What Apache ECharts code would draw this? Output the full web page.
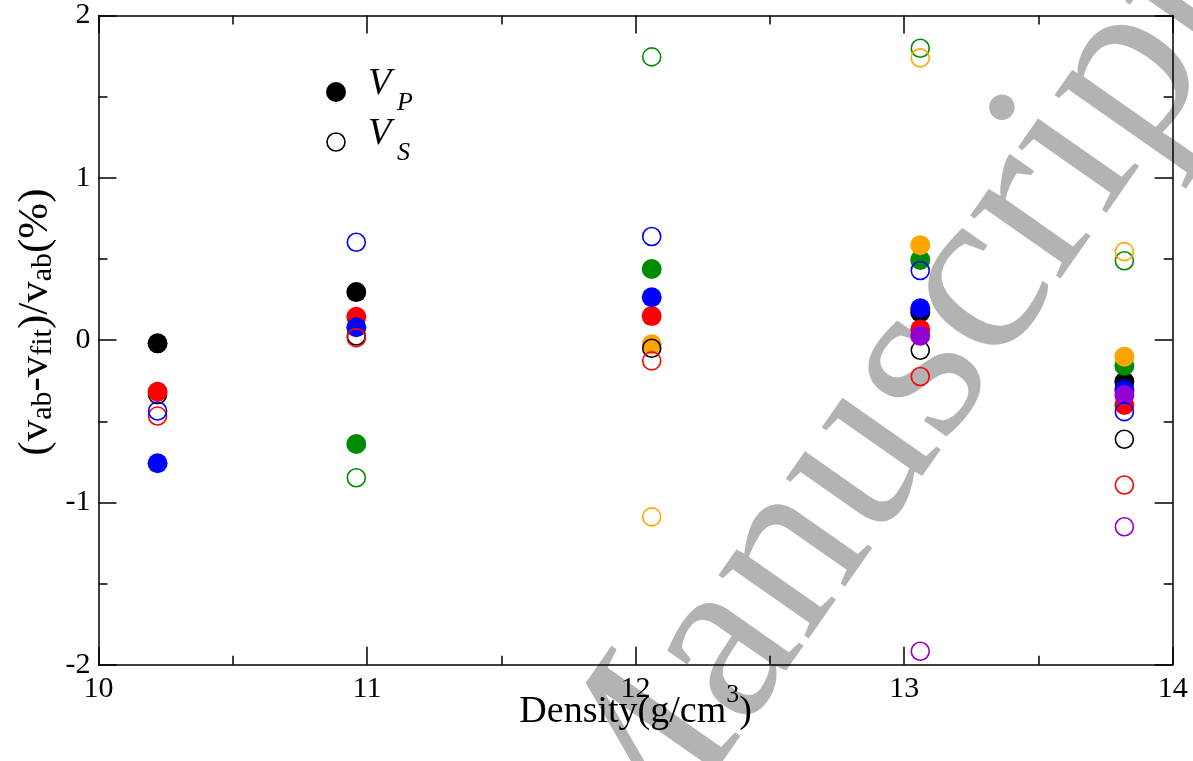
<!DOCTYPE html>
<html><head><meta charset="utf-8">
<script src="https://cdn.jsdelivr.net/npm/echarts@6/dist/echarts.min.js"></script>
<style>html,body{margin:0;padding:0;background:#fff}#c{width:1193px;height:761px}</style>
</head><body><div id="c"></div>
<script>
// Densities (g/cm^3) of the five groups
const densities = [10.22, 10.96, 12.06, 13.06, 13.82];
// V_P (filled circles), deviation in %
const vpBlack  = [-0.02, 0.296, null, 0.17, -0.256];
const vpRed    = [-0.318, 0.144, 0.148, 0.066, -0.40];
const vpBlue   = [-0.759, 0.079, 0.264, 0.196, -0.307];
const vpGreen  = [null, -0.640, 0.438, 0.494, -0.158];
const vpOrange = [null, null, -0.026, 0.585, -0.102];
const vpViolet = [null, null, null, 0.027, -0.338];
// V_S (open circles), deviation in %
const vsBlack  = [-0.335, 0.025, -0.050, -0.063, -0.611];
const vsRed    = [-0.468, 0.015, -0.128, -0.224, -0.893];
const vsBlue   = [-0.437, 0.603, 0.638, 0.429, -0.441];
const vsGreen  = [null, -0.848, 1.745, 1.798, 0.489];
const vsOrange = [null, null, -1.089, 1.739, 0.545];
const vsViolet = [null, null, null, -1.917, -1.150];
const xTicks = [10, 11, 12, 13, 14];
const yTicks = [-2, -1, 0, 1, 2];

const C = {black:'#000000', red:'#ff0000', blue:'#0000ff', green:'#008b00', orange:'#ffa500', violet:'#9400d3'};
const FONT = 'Liberation Serif';

function pts(vals){ const out=[]; vals.forEach((v,i)=>{ if(v!==null) out.push([densities[i], v]); }); return out; }
function filled(name, vals, col){ return {name, type:'scatter', symbol:'circle', symbolSize:20, data:pts(vals),
  itemStyle:{color:col, opacity:1}, emphasis:{disabled:true}, silent:true}; }
function open(name, vals, col){ return {name, type:'scatter', symbol:'circle', symbolSize:18, data:pts(vals),
  itemStyle:{color:'rgba(255,255,255,0)', borderColor:col, borderWidth:1.6, opacity:1}, emphasis:{disabled:true}, silent:true}; }

const series = [
  filled('VP black', vpBlack, C.black),
  filled('VP green', vpGreen, C.green),
  filled('VP orange', vpOrange, C.orange),
  open('VS black', vsBlack, C.black),
  filled('VP red', vpRed, C.red),
  filled('VP blue', vpBlue, C.blue),
  filled('VP violet', vpViolet, C.violet),
  open('VS red', vsRed, C.red),
  open('VS blue', vsBlue, C.blue),
  open('VS green', vsGreen, C.green),
  open('VS orange', vsOrange, C.orange),
  open('VS violet', vsViolet, C.violet)
];

const lineS = {color:'#000', width:1.5};
function axisBase(min, max, showLabel){
  return {type:'value', min, max, interval:1,
    axisLine:{show:true, onZero:false, lineStyle:lineS},
    axisTick:{show:true, inside:true, length:18, lineStyle:lineS},
    minorTick:{show:true, splitNumber:2, length:9, lineStyle:lineS},
    splitLine:{show:false}, minorSplitLine:{show:false},
    axisLabel:{show:showLabel, fontSize:30, fontFamily:FONT, color:'#000'}};
}
const xb = axisBase(xTicks[0], xTicks[xTicks.length-1], true);
xb.position='bottom'; xb.axisLabel.margin=9;
xb.name='{m|Density(g/cm}{s|3}{m|)}'; xb.nameLocation='middle'; xb.nameGap=17; xb.nameMoveOverlap=false;
xb.nameTextStyle={fontFamily:FONT, color:'#000', rich:{
  m:{fontSize:38, fontFamily:FONT, color:'#000', lineHeight:60},
  s:{fontSize:26, fontFamily:FONT, color:'#000', lineHeight:18, verticalAlign:'top'}}};
const xt = axisBase(xTicks[0], xTicks[xTicks.length-1], false); xt.position='top';
const yl = axisBase(yTicks[0], yTicks[yTicks.length-1], true);
yl.position='left'; yl.axisLabel.margin=8;
yl.name='{m|(v}{s|ab}{m|-v}{s|fit}{m|)/v}{s|ab}{m|(%)}'; yl.nameLocation='middle'; yl.nameGap=40; yl.nameMoveOverlap=false;
yl.nameTextStyle={fontFamily:FONT, color:'#000', padding:[0,0,0,36], rich:{
  m:{fontSize:43, fontFamily:FONT, color:'#000', lineHeight:46},
  s:{fontSize:30, fontFamily:FONT, color:'#000', lineHeight:22, verticalAlign:'bottom'}}};
const yr = axisBase(yTicks[0], yTicks[yTicks.length-1], false); yr.position='right';

const chart = echarts.init(document.getElementById('c'), null, {renderer:'canvas'});
chart.setOption({
  animation:false,
  backgroundColor:'#fff',
  grid:{left:98.5, top:15.5, right:20.3, bottom:96.3, containLabel:false},
  xAxis:[xb, xt],
  yAxis:[yl, yr],
  series: series,
  graphic:[
    {type:'text', z:-10, zlevel:0, silent:true, x:472, y:800, rotation:55*Math.PI/180,
      style:{text:'Manuscript', font:'normal 240px "Liberation Serif"', fill:'#b3b3b3', textAlign:'left', textVerticalAlign:'top'}},
    {type:'circle', shape:{cx:336, cy:92, r:10}, style:{fill:'#000'}, silent:true, z:100},
    {type:'circle', shape:{cx:336, cy:142, r:9}, style:{fill:'none', stroke:'#000', lineWidth:1.6}, silent:true, z:100},
    {type:'text', x:368, y:84.5, z:100, style:{text:'V', font:'italic 38px "Liberation Serif"', fill:'#000', textVerticalAlign:'middle'}},
    {type:'text', x:397, y:103.5, z:100, style:{text:'P', font:'italic 26px "Liberation Serif"', fill:'#000', textVerticalAlign:'middle'}},
    {type:'text', x:368, y:134.5, z:100, style:{text:'V', font:'italic 38px "Liberation Serif"', fill:'#000', textVerticalAlign:'middle'}},
    {type:'text', x:397, y:153.5, z:100, style:{text:'S', font:'italic 26px "Liberation Serif"', fill:'#000', textVerticalAlign:'middle'}}
  ]
});
</script></body></html>
